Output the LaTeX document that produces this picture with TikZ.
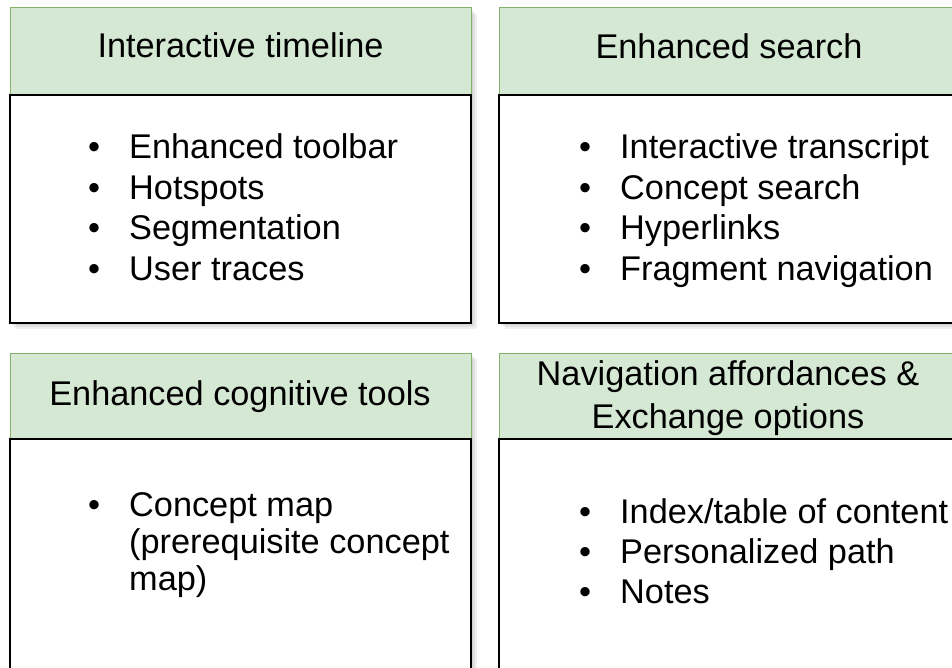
\documentclass[tikz,border=0pt]{standalone}
\usepackage{fontspec}
\setmainfont{Liberation Sans}
\definecolor{hdrfill}{HTML}{D5E8D4}
\definecolor{hdrline}{HTML}{82B366}
\begin{document}
\begin{tikzpicture}[x=1pt,y=-1pt,
  hdr/.style={draw=hdrline, line width=1pt, fill=hdrfill, minimum width=461pt, minimum height=87pt, inner sep=0pt, outer sep=0pt},
  bodybox/.style={draw=black, line width=1.8pt, fill=white, minimum width=461pt, inner sep=0pt, outer sep=0pt},
  title/.style={anchor=base, font=\fontsize{34.3}{41}\selectfont, inner sep=0pt},
  item/.style={anchor=base west, font=\fontsize{34.3}{41}\selectfont, inner sep=0pt},
  shadowlayer/.style={fill=black, opacity=0.06, draw=none}
]
\useasboundingbox (0,0) rectangle (952,668);
\clip (0,0) rectangle (952,668);
\fill[white] (0,0) rectangle (952,668);
\newcommand{\bul}{\makebox[41pt][l]{\textbullet}}
\newcommand{\nobul}{\makebox[41pt][l]{}}
% shadows
\foreach \d in {2,4,6}{
  \fill[shadowlayer] (10+\d,8+\d) rectangle (471+\d,323+\d);
  \fill[shadowlayer] (499+\d,8+\d) rectangle (960+\d,323+\d);
  \fill[shadowlayer] (10+\d,353+\d) rectangle (471+\d,690);
  \fill[shadowlayer] (499+\d,353+\d) rectangle (960+\d,690);
}
% top-left
\node[hdr] (tlh) at (240.5,51.5) {};
\node[bodybox, minimum height=228pt] (tlb) at (240.5,209) {};
% top-right
\node[hdr] (trh) at (729.5,51.5) {};
\node[bodybox, minimum height=228pt] (trb) at (729.5,209) {};
% bottom-left
\node[hdr, minimum height=86pt] (blh) at (240.5,396) {};
\node[bodybox, minimum height=241pt] (blb) at (240.5,559.5) {};
% bottom-right
\node[hdr, minimum height=86pt] (brh) at (729.5,396) {};
\node[bodybox, minimum height=241pt] (brb) at (729.5,559.5) {};
% titles
\node[title] (tlt) at (240.5,58) {Interactive timeline};
\node[title] (trt) at (729,58.5) {Enhanced search};
\node[title] (blt) at (240,405) {Enhanced cognitive tools};
\node[title] (brt1) at (728,385) {Navigation affordances \&};
\node[title] (brt2) at (728,428) {Exchange options};
% top-left items
\node[item] (tl1) at (88,158.5) {\bul Enhanced toolbar};
\node[item] (tl2) at (88,199.2) {\bul Hotspots};
\node[item] (tl3) at (88,239.9) {\bul Segmentation};
\node[item] (tl4) at (88,280.6) {\bul User traces};
% top-right items
\node[item] (tr1) at (579,158.5) {\bul Interactive transcript};
\node[item] (tr2) at (579,199.2) {\bul Concept search};
\node[item] (tr3) at (579,239.9) {\bul Hyperlinks};
\node[item] (tr4) at (579,280.6) {\bul Fragment navigation};
% bottom-left items
\node[item] (bl1) at (88,516) {\bul Concept map};
\node[item] (bl2) at (88,553) {\nobul (prerequisite concept};
\node[item] (bl3) at (88,590) {\nobul map)};
% bottom-right items
\node[item] (br1) at (579,523) {\bul Index/table of content};
\node[item] (br2) at (579,563) {\bul Personalized path};
\node[item] (br3) at (579,603) {\bul Notes};
\end{tikzpicture}
\end{document}
